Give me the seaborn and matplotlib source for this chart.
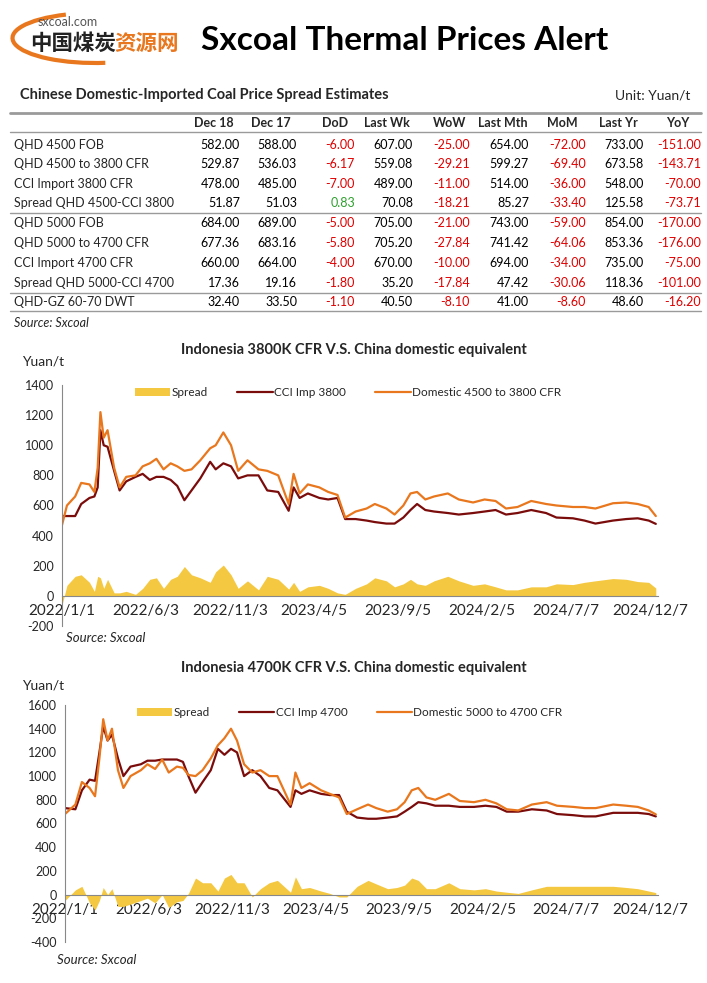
import seaborn as sns
import matplotlib.pyplot as plt
from matplotlib.patches import Arc
import pandas as pd

# table data
col_heads = ['Dec 18', 'Dec 17', 'DoD', 'Last Wk', 'WoW', 'Last Mth', 'MoM', 'Last Yr', 'YoY']
row_names = ['QHD 4500 FOB', 'QHD 4500 to 3800 CFR', 'CCI Import 3800 CFR', 'Spread QHD 4500-CCI 3800',
             'QHD 5000 FOB', 'QHD 5000 to 4700 CFR', 'CCI Import 4700 CFR', 'Spread QHD 5000-CCI 4700',
             'QHD-GZ 60-70 DWT']
table_vals = [
    [582.00, 588.00, -6.00, 607.00, -25.00, 654.00, -72.00, 733.00, -151.00],
    [529.87, 536.03, -6.17, 559.08, -29.21, 599.27, -69.40, 673.58, -143.71],
    [478.00, 485.00, -7.00, 489.00, -11.00, 514.00, -36.00, 548.00, -70.00],
    [51.87, 51.03, 0.83, 70.08, -18.21, 85.27, -33.40, 125.58, -73.71],
    [684.00, 689.00, -5.00, 705.00, -21.00, 743.00, -59.00, 854.00, -170.00],
    [677.36, 683.16, -5.80, 705.20, -27.84, 741.42, -64.06, 853.36, -176.00],
    [660.00, 664.00, -4.00, 670.00, -10.00, 694.00, -34.00, 735.00, -75.00],
    [17.36, 19.16, -1.80, 35.20, -17.84, 47.42, -30.06, 118.36, -101.00],
    [32.40, 33.50, -1.10, 40.50, -8.10, 41.00, -8.60, 48.60, -16.20],
]

# chart 1: Indonesia 3800 vs domestic 4500->3800
dates1 = ['2022-01-01', '2022-01-10', '2022-01-25', '2022-02-05', '2022-02-20', '2022-03-01', '2022-03-07',
          '2022-03-12', '2022-03-18', '2022-03-25', '2022-04-06', '2022-04-16', '2022-04-28', '2022-05-15',
          '2022-05-28', '2022-06-10', '2022-06-22', '2022-07-05', '2022-07-18', '2022-07-30', '2022-08-12',
          '2022-08-25', '2022-09-10', '2022-09-28', '2022-10-08', '2022-10-22', '2022-11-05', '2022-11-18',
          '2022-12-05', '2022-12-25', '2023-01-10', '2023-01-30', '2023-02-18', '2023-02-27', '2023-03-10',
          '2023-03-25', '2023-04-15', '2023-05-01', '2023-05-18', '2023-06-01', '2023-06-20', '2023-07-10',
          '2023-07-25', '2023-08-15', '2023-08-30', '2023-09-15', '2023-09-28', '2023-10-10', '2023-10-25',
          '2023-11-10', '2023-12-05', '2023-12-25', '2024-01-20', '2024-02-10', '2024-03-01', '2024-03-20',
          '2024-04-10', '2024-05-05', '2024-06-01', '2024-06-20', '2024-07-20', '2024-08-10', '2024-08-30',
          '2024-10-01', '2024-10-25', '2024-11-15', '2024-12-05', '2024-12-18']
imp3800 = [530, 530, 530, 610, 650, 660, 720, 1100, 1000, 990, 830, 700, 760, 790, 810, 770, 790, 790, 770,
           730, 635, 700, 780, 890, 840, 880, 860, 780, 800, 800, 700, 690, 565, 720, 650, 680, 650, 640, 650,
           510, 510, 500, 490, 480, 480, 520, 570, 610, 570, 560, 550, 540, 550, 560, 570, 540, 550, 570, 550,
           520, 515, 500, 480, 500, 510, 515, 500, 478]
dom3800 = [470, 600, 660, 750, 740, 690, 850, 1220, 1050, 1100, 850, 720, 790, 800, 860, 880, 910, 840, 880,
           860, 830, 840, 900, 980, 1000, 1085, 1000, 830, 900, 840, 830, 800, 610, 810, 680, 740, 720, 690, 670,
           520, 560, 580, 610, 580, 540, 600, 680, 690, 640, 660, 680, 640, 620, 640, 630, 580, 590, 630, 610,
           600, 590, 590, 580, 615, 620, 610, 590, 530]

# chart 2: Indonesia 4700 vs domestic 5000->4700
dates2 = ['2022-01-01', '2022-01-20', '2022-02-01', '2022-02-15', '2022-02-25', '2022-03-05', '2022-03-12',
          '2022-03-20', '2022-03-28', '2022-04-08', '2022-04-18', '2022-05-01', '2022-05-20', '2022-06-01',
          '2022-06-15', '2022-06-28', '2022-07-10', '2022-07-25', '2022-08-05', '2022-08-15', '2022-08-28',
          '2022-09-10', '2022-09-25', '2022-10-08', '2022-10-20', '2022-11-01', '2022-11-12', '2022-11-25',
          '2022-12-10', '2022-12-25', '2023-01-10', '2023-01-25', '2023-02-18', '2023-02-27', '2023-03-10',
          '2023-03-25', '2023-04-15', '2023-05-01', '2023-05-18', '2023-06-01', '2023-06-20', '2023-07-10',
          '2023-07-25', '2023-08-15', '2023-09-01', '2023-09-15', '2023-09-28', '2023-10-10', '2023-10-25',
          '2023-11-10', '2023-12-05', '2023-12-25', '2024-01-20', '2024-02-10', '2024-03-01', '2024-03-20',
          '2024-04-10', '2024-05-05', '2024-06-01', '2024-06-20', '2024-07-20', '2024-08-10', '2024-08-30',
          '2024-10-01', '2024-10-25', '2024-11-15', '2024-12-05', '2024-12-18']
imp4700 = [730, 720, 880, 970, 960, 1200, 1420, 1300, 1350, 1150, 1000, 1080, 1100, 1130, 1130, 1140, 1140,
           1140, 1120, 1000, 860, 950, 1050, 1230, 1180, 1230, 1200, 1000, 1050, 1000, 900, 880, 740, 880, 850,
           880, 850, 840, 840, 700, 650, 640, 640, 650, 660, 700, 740, 780, 770, 750, 750, 740, 740, 750, 740,
           700, 700, 720, 710, 680, 670, 660, 660, 690, 690, 690, 680, 660]
dom4700 = [680, 760, 950, 900, 830, 1150, 1480, 1300, 1400, 1050, 900, 1000, 1050, 1100, 1060, 1140, 1030,
           1080, 1070, 1010, 1000, 1050, 1150, 1260, 1320, 1400, 1300, 1100, 1030, 1050, 1000, 1000, 760, 1030,
           900, 940, 880, 850, 820, 680, 720, 760, 730, 700, 720, 780, 880, 900, 820, 800, 850, 790, 780, 800,
           770, 720, 710, 760, 780, 750, 740, 730, 730, 760, 750, 740, 710, 677]

tick_dates = ['2022-01-01', '2022-06-03', '2022-11-03', '2023-04-05', '2023-09-05', '2024-02-05',
              '2024-07-07', '2024-12-07']
tick_labels = ['2022/1/1', '2022/6/3', '2022/11/3', '2023/4/5', '2023/9/5', '2024/2/5', '2024/7/7', '2024/12/7']

SPREAD_C = '#F5C842'
IMP_C = '#7B0C0C'
DOM_C = '#E8771E'

sns.set_theme(style="white")
plt.rcParams['font.family'] = ['Lato', 'Noto Sans CJK SC', 'DejaVu Sans']

fig = plt.figure(figsize=(7.07, 9.83), dpi=100)
W, H = 707, 983


def fx(x):
    return x / W


def fy(y):
    return 1 - y / H


# header / logo
fig.text(fx(38), fy(22), 'sxcoal.com', fontsize=9, color='#555555', va='center')
fig.text(fx(30), fy(43), '中国煤炭', fontsize=15.5, fontweight='bold', color='#222222', va='center',
         family=['Noto Sans CJK SC'])
fig.text(fx(114), fy(43), '资源网', fontsize=15.5, fontweight='bold', color='#E8771E', va='center',
         family=['Noto Sans CJK SC'])
arc = Arc((fx(95), fy(38)), fx(165), 50 / H, theta1=150, theta2=300, color='#E8771E', lw=3,
          transform=fig.transFigure)
fig.add_artist(arc)
fig.text(fx(405), fy(40), 'Sxcoal Thermal Prices Alert', fontsize=24, fontweight='bold', ha='center',
         va='center', color='black')

# table
fig.text(fx(20), fy(95), 'Chinese Domestic-Imported Coal Price Spread Estimates', fontsize=10.5,
         fontweight='bold', va='center')
fig.text(fx(690), fy(95), 'Unit: Yuan/t', fontsize=10, ha='right', va='center')
col_right = [240, 297, 355, 413, 470, 529, 586, 644, 701]
col_center = [214, 271, 335, 387, 450, 503, 562, 618, 678]
grey = '#9a9a9a'
for y, lw in [(113, 2.0), (132, 1.0), (213, 1.0), (293, 1.0), (311, 1.0)]:
    fig.add_artist(plt.Line2D([fx(10), fx(701)], [fy(y), fy(y)], color=grey, lw=lw,
                              transform=fig.transFigure))
for c, h in zip(col_center, col_heads):
    fig.text(fx(c), fy(123), h, fontsize=9, fontweight='bold', ha='center', va='center')
row_y = [145, 164, 184, 203, 223, 243, 263, 283, 302]
for ry, name, vals in zip(row_y, row_names, table_vals):
    fig.text(fx(14), fy(ry), name, fontsize=9, va='center')
    for j, (cx, v) in enumerate(zip(col_right, vals)):
        color = 'black'
        if j in (2, 4, 6, 8):
            color = '#E00000' if v < 0 else '#2EA02E'
        fig.text(fx(cx), fy(ry), f'{v:.2f}', fontsize=9, ha='right', va='center', color=color)
fig.text(fx(14), fy(323), 'Source: Sxcoal', fontsize=9, style='italic', va='center')


def draw_chart(rect, dates, imp, dom, title, imp_name, dom_name, ylim, yticks, title_y, unit_y, src_xy):
    ax = fig.add_axes(rect)
    df = pd.DataFrame({'date': pd.to_datetime(dates), 'imp': imp, 'dom': dom})
    df['spread'] = df['dom'] - df['imp']
    ax.fill_between(df['date'], 0, df['spread'], color=SPREAD_C, lw=0, label='Spread')
    sns.lineplot(data=df, x='date', y='imp', ax=ax, color=IMP_C, lw=1.6, label=imp_name)
    sns.lineplot(data=df, x='date', y='dom', ax=ax, color=DOM_C, lw=1.6, label=dom_name)
    ax.set_xlim(pd.Timestamp('2022-01-01'), pd.Timestamp('2024-12-22'))
    ax.set_ylim(*ylim)
    ax.set_yticks(yticks)
    ax.set_yticklabels([str(t) for t in yticks], fontsize=9)
    ax.set_xticks(pd.to_datetime(tick_dates))
    ax.set_xticklabels(tick_labels, fontsize=8.5)
    ax.spines['bottom'].set_position(('data', 0))
    for s in ['top', 'right']:
        ax.spines[s].set_visible(False)
    for s in ['left', 'bottom']:
        ax.spines[s].set_color('#888888')
        ax.spines[s].set_linewidth(0.8)
    ax.tick_params(axis='both', direction='out', length=4, width=0.8, color='#888888', pad=2)
    ax.set_xlabel('')
    ax.set_ylabel('')
    ax.grid(False)
    ax.legend(loc='upper center', bbox_to_anchor=(0.48, 1.035), ncol=3, frameon=False, fontsize=8.5,
              handlelength=3, columnspacing=2.5, handletextpad=0.1)
    fig.text(fx(354), fy(title_y), title, fontsize=10.5, fontweight='bold', ha='center', va='center')
    fig.text(fx(22), fy(unit_y), 'Yuan/t', fontsize=10, va='center')
    fig.text(fx(src_xy[0]), fy(src_xy[1]), 'Source: Sxcoal', fontsize=9.5, style='italic', va='center')


draw_chart([fx(62), fy(626), fx(596), (626 - 385) / H], dates1, imp3800, dom3800,
           'Indonesia 3800K CFR V.S. China domestic equivalent', 'CCI Imp 3800', 'Domestic 4500 to 3800 CFR',
           (-200, 1400), list(range(-200, 1401, 200)), 350, 362, (66, 638))
draw_chart([fx(65), fy(942), fx(593), (942 - 705) / H], dates2, imp4700, dom4700,
           'Indonesia 4700K CFR V.S. China domestic equivalent', 'CCI Imp 4700', 'Domestic 5000 to 4700 CFR',
           (-400, 1600), list(range(-400, 1601, 200)), 668, 686, (57, 960))

fig.savefig('out.png', dpi=100)
